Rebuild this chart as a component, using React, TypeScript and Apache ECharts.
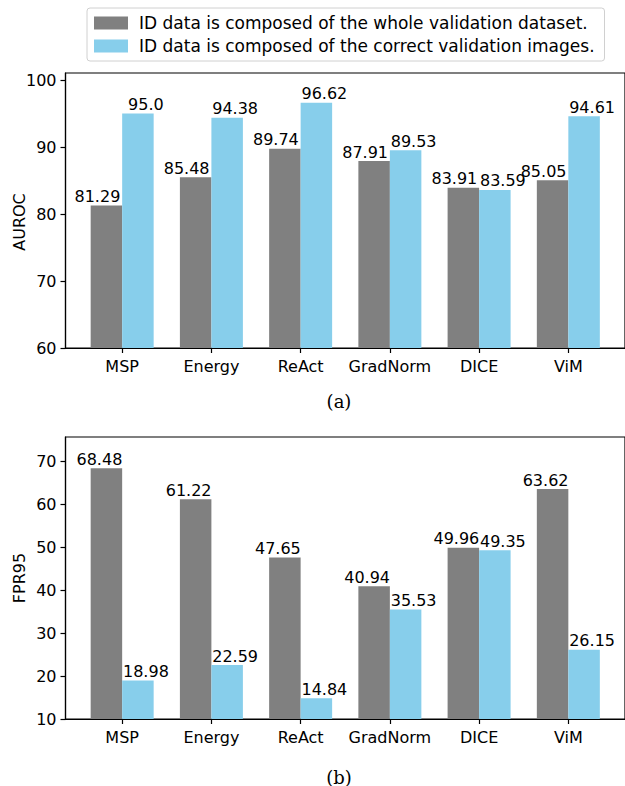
import React, { useEffect, useRef } from "react";
import * as echarts from "echarts";

const categories = ["MSP", "Energy", "ReAct", "GradNorm", "DICE", "ViM"];
const seriesNames = [
  "ID data is composed of the whole validation dataset.",
  "ID data is composed of the correct validation images.",
];
const aurocWhole = [81.29, 85.48, 89.74, 87.91, 83.91, 85.05];
const aurocCorrect = [95.0, 94.38, 96.62, 89.53, 83.59, 94.61];
const fprWhole = [68.48, 61.22, 47.65, 40.94, 49.96, 63.62];
const fprCorrect = [18.98, 22.59, 14.84, 35.53, 49.35, 26.15];
const aurocTicks = [60, 70, 80, 90, 100];
const fprTicks = [10, 20, 30, 40, 50, 60, 70];

const GRAY = "#808080";
const BLUE = "#87CEEB";
const FONT = "DejaVu Sans";

const fmt = (v: number) => (Number.isInteger(v) ? v.toFixed(1) : String(v));

export default function App() {
  const ref = useRef<HTMLDivElement>(null);
  useEffect(() => {
    if (!ref.current) return;
    const chart = echarts.init(ref.current, undefined, { renderer: "svg" });
    const catIdx = categories.map((_, i) => i);
    const xAxisBase = (gridIndex: number) => ({
      type: "value" as const,
      gridIndex,
      min: -0.635,
      max: 5.635,
      splitLine: { show: false },
      axisLine: { show: true, onZero: false, lineStyle: { color: "#000", width: 1.2 } },
      axisTick: {
        show: true,
        length: 5,
        customValues: catIdx,
        lineStyle: { color: "#000", width: 1.2 },
      },
      axisLabel: {
        customValues: catIdx,
        formatter: (v: number) => categories[Math.round(v)] ?? "",
        fontFamily: FONT,
        fontSize: 16,
        color: "#000",
        margin: 10,
      },
    });
    const yAxisBase = (gridIndex: number, min: number, max: number, ticks: number[]) => ({
      type: "value" as const,
      gridIndex,
      min,
      max,
      splitLine: { show: false },
      axisLine: { show: true, onZero: false, lineStyle: { color: "#000", width: 1.2 } },
      axisTick: {
        show: true,
        length: 5,
        customValues: ticks,
        lineStyle: { color: "#000", width: 1.2 },
      },
      axisLabel: {
        customValues: ticks,
        fontFamily: FONT,
        fontSize: 16,
        color: "#000",
        margin: 9,
      },
    });
    const mkLabel = (dx: number) => ({
      show: true,
      position: "top" as const,
      distance: 1,
      offset: [dx, 0],
      fontFamily: FONT,
      fontSize: 16,
      color: "#000",
      formatter: (p: any) => fmt(p.value[1]),
    });
    const mk = (name: string, vals: number[], color: string, idx: number, dx: number) => ({
      name,
      type: "bar" as const,
      xAxisIndex: idx,
      yAxisIndex: idx,
      barWidth: 31.5,
      barGap: "0%",
      itemStyle: { color },
      label: mkLabel(dx),
      data: vals.map((v, i) => [i, v]),
    });
    chart.setOption({
      animation: false,
      backgroundColor: "#fff",
      legend: {
        orient: "vertical",
        left: 87,
        top: 8,
        data: seriesNames,
        itemWidth: 34,
        itemHeight: 13,
        itemGap: 5,
        padding: [6, 10, 6, 7],
        borderColor: "#d0d0d0",
        borderWidth: 1,
        borderRadius: 3,
        icon: "rect",
        textStyle: {
          fontFamily: FONT,
          fontSize: 17,
          color: "#000",
          lineHeight: 18,
          padding: [0, 0, 0, 6],
        },
      },
      grid: [
        {
          left: 65.5,
          top: 73,
          width: 564.3,
          height: 275,
          show: true,
          borderColor: "#000",
          borderWidth: 1.2,
          backgroundColor: "transparent",
        },
        {
          left: 65.5,
          top: 437,
          width: 564.3,
          height: 282,
          show: true,
          borderColor: "#000",
          borderWidth: 1.2,
          backgroundColor: "transparent",
        },
      ],
      xAxis: [xAxisBase(0), xAxisBase(1)],
      yAxis: [
        yAxisBase(0, 60, 101.05, aurocTicks),
        yAxisBase(1, 10, 75.76, fprTicks),
      ],
      series: [
        mk(seriesNames[0], aurocWhole, GRAY, 0, -9),
        mk(seriesNames[1], aurocCorrect, BLUE, 0, 8),
        mk(seriesNames[0], fprWhole, GRAY, 1, -7),
        mk(seriesNames[1], fprCorrect, BLUE, 1, 8),
      ],
      graphic: [
        {
          type: "text",
          x: 19,
          y: 222,
          rotation: Math.PI / 2,
          style: {
            text: "AUROC",
            fontFamily: FONT,
            fontSize: 16,
            fill: "#000",
            align: "center",
            verticalAlign: "middle",
          },
        },
        {
          type: "text",
          x: 19,
          y: 578,
          rotation: Math.PI / 2,
          style: {
            text: "FPR95",
            fontFamily: FONT,
            fontSize: 16,
            fill: "#000",
            align: "center",
            verticalAlign: "middle",
          },
        },
        {
          type: "text",
          x: 339,
          y: 401,
          style: {
            text: "(a)",
            fontFamily: "DejaVu Serif",
            fontSize: 18,
            fill: "#000",
            align: "center",
            verticalAlign: "middle",
          },
        },
        {
          type: "text",
          x: 339,
          y: 777,
          style: {
            text: "(b)",
            fontFamily: "DejaVu Serif",
            fontSize: 18,
            fill: "#000",
            align: "center",
            verticalAlign: "middle",
          },
        },
      ],
    });
    return () => chart.dispose();
  }, []);
  return (
    <div
      ref={ref}
      style={{ position: "fixed", left: 0, top: 0, width: 625, height: 786 }}
    />
  );
}
